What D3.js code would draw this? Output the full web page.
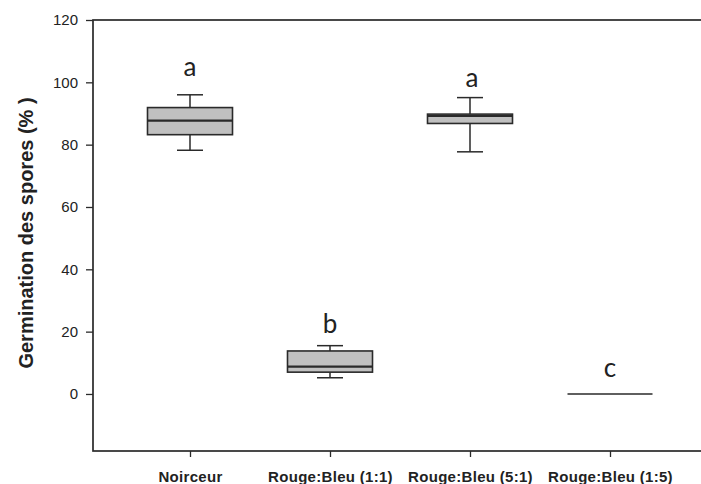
<!DOCTYPE html>
<html><head><meta charset="utf-8">
<script src="https://cdn.jsdelivr.net/npm/d3@7"></script>
<style>body{margin:0;background:#fff}svg{display:block}</style>
</head><body><svg id="c" width="701" height="484"></svg>
<script>
const categories = ["Noirceur", "Rouge:Bleu (1:1)", "Rouge:Bleu (5:1)", "Rouge:Bleu (1:5)"];
const whiskerLow = [78.2, 5.2, 77.7, 0];
const q1 = [83.2, 7.0, 86.8, 0];
const median = [87.7, 8.8, 89.2, 0];
const q3 = [91.9, 13.8, 89.8, 0];
const whiskerHigh = [96.0, 15.5, 95.1, 0];
const letters = ["a", "b", "a", "c"];
const letterY = [102, 19.6, 98.5, 5.5];
const yTicks = [0, 20, 40, 60, 80, 100, 120];
const yTitle = "Germination des spores (% )";

(function () {
const svg = d3.select("#c");
const mLeft = 93, mTop = 20, mBottom = 451;
const y = d3.scaleLinear().domain([-18.3, 120]).range([mBottom, mTop]);
const x = d3.scalePoint().domain(categories).range([190, 610]);
const boxW = 85, capW = 26;
const ink = "#2a2a2a";

// frame
svg.append("rect").attr("x", mLeft).attr("y", mTop).attr("width", 720 - mLeft).attr("height", mBottom - mTop)
  .attr("fill", "none").attr("stroke", ink).attr("stroke-width", 1.7);

// y axis
const ya = svg.append("g").attr("transform", `translate(${mLeft},0)`)
  .call(d3.axisLeft(y).tickValues(yTicks).tickSize(7).tickPadding(8));
ya.select(".domain").remove();
ya.selectAll("line").attr("stroke", ink).attr("stroke-width", 1.3);
ya.selectAll("text").attr("font-family", "Liberation Sans, Arial, sans-serif").attr("font-size", 15).attr("fill", "#222");

// x axis
const xa = svg.append("g").attr("transform", `translate(0,${mBottom})`)
  .call(d3.axisBottom(x).tickSize(6).tickPadding(14));
xa.select(".domain").remove();
xa.selectAll("line").attr("stroke", ink).attr("stroke-width", 1.3);
xa.selectAll("text").attr("font-family", "Liberation Sans, Arial, sans-serif").attr("font-size", 15)
  .attr("font-weight", "bold").attr("fill", "#222").attr("dy", "0.71em").attr("letter-spacing", 0.3);

// y title
svg.append("text").attr("transform", `translate(33,233) rotate(-90)`)
  .attr("text-anchor", "middle").attr("font-family", "Liberation Sans, Arial, sans-serif")
  .attr("font-size", 20).attr("font-weight", "bold").attr("fill", "#222").text(yTitle);

// boxes
categories.forEach((c, i) => {
  const cx = x(c);
  const g = svg.append("g");
  if (q3[i] - q1[i] > 0) {
    g.append("line").attr("x1", cx).attr("x2", cx).attr("y1", y(whiskerHigh[i])).attr("y2", y(q3[i]))
      .attr("stroke", ink).attr("stroke-width", 1.5);
    g.append("line").attr("x1", cx).attr("x2", cx).attr("y1", y(q1[i])).attr("y2", y(whiskerLow[i]))
      .attr("stroke", ink).attr("stroke-width", 1.5);
    [whiskerHigh[i], whiskerLow[i]].forEach(v => g.append("line")
      .attr("x1", cx - capW / 2).attr("x2", cx + capW / 2).attr("y1", y(v)).attr("y2", y(v))
      .attr("stroke", ink).attr("stroke-width", 1.5));
    g.append("rect").attr("x", cx - boxW / 2).attr("width", boxW)
      .attr("y", y(q3[i])).attr("height", y(q1[i]) - y(q3[i]))
      .attr("fill", "#c0c0c0").attr("stroke", ink).attr("stroke-width", 1.6);
    g.append("line").attr("x1", cx - boxW / 2).attr("x2", cx + boxW / 2)
      .attr("y1", y(median[i])).attr("y2", y(median[i])).attr("stroke", ink).attr("stroke-width", 2.2);
  } else {
    g.append("line").attr("x1", cx - boxW / 2).attr("x2", cx + boxW / 2)
      .attr("y1", y(median[i])).attr("y2", y(median[i])).attr("stroke", ink).attr("stroke-width", 1.5);
  }
  g.append("text").attr("x", cx + (i === 2 ? 2 : 0)).attr("y", y(letterY[i])).attr("text-anchor", "middle")
    .attr("font-family", "Lato, Open Sans, sans-serif").attr("font-size", 26).attr("fill", "#222").text(letters[i]);
});
})();
</script></body></html>
